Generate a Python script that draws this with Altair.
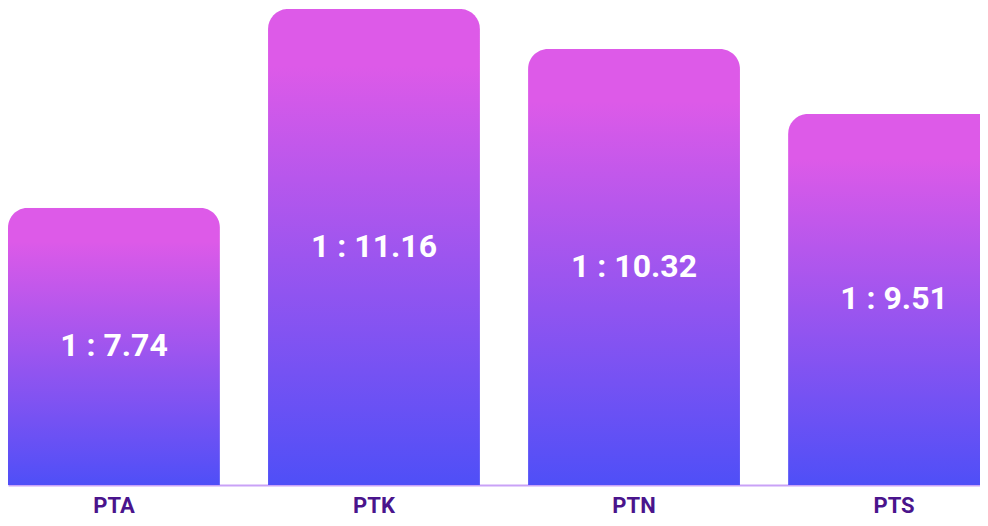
import altair as alt
import pandas as pd

categories = ["PTA", "PTK", "PTN", "PTS"]
ratios = [7.74, 11.16, 10.32, 9.51]
bar_level = [58.1, 99.8, 91.4, 77.8]   # relative bar height (tallest ~100)

df = pd.DataFrame({
    "cat": categories,
    "ratio": ratios,
    "level": bar_level,
})
df["label"] = ["1 : " + f"{r:.2f}" for r in ratios]

gradient = alt.LinearGradient(
    gradient="linear",
    stops=[
        alt.GradientStop(color="#dd5ae8", offset=0),
        alt.GradientStop(color="#dd5ae8", offset=0.12),
        alt.GradientStop(color="#4f4ff7", offset=1),
    ],
    x1=0, x2=0, y1=0, y2=1,
)

x = alt.X(
    "cat:N",
    sort=categories,
    title=None,
    scale=alt.Scale(range=[0, 992], paddingInner=0.185, paddingOuter=0),
    axis=alt.Axis(
        labelAngle=0,
        labelFont="Roboto",
        labelFontSize=22,
        labelFontWeight="bold",
        labelColor="#4a148c",
        labelPadding=10,
        ticks=False,
        tickSize=0,
        domain=True,
        domainColor="#c9a2f7",
        domainWidth=2,
        grid=False,
    ),
)
y = alt.Y("level:Q", scale=alt.Scale(domain=[0, 100]), axis=None)

bars = alt.Chart(df).mark_bar(
    color=gradient,
    cornerRadiusTopLeft=20,
    cornerRadiusTopRight=20,
).encode(x=x, y=y)

labels = alt.Chart(df).transform_calculate(
    mid="datum.level / 2"
).mark_text(
    font="Roboto",
    fontSize=32,
    fontWeight="bold",
    color="white",
    baseline="middle",
    align="center",
).encode(
    x=alt.X("cat:N", sort=categories),
    y=alt.Y("mid:Q"),
    text="label:N",
)

chart = alt.layer(bars, labels).properties(
    width=972,
    height=477,
    autosize=alt.AutoSizeParams(type="none"),
    padding={"left": 0, "top": 0, "right": 0, "bottom": 33},
).configure_view(stroke=None)

chart.save("out.html", embed_options={"renderer": "svg", "actions": False})
